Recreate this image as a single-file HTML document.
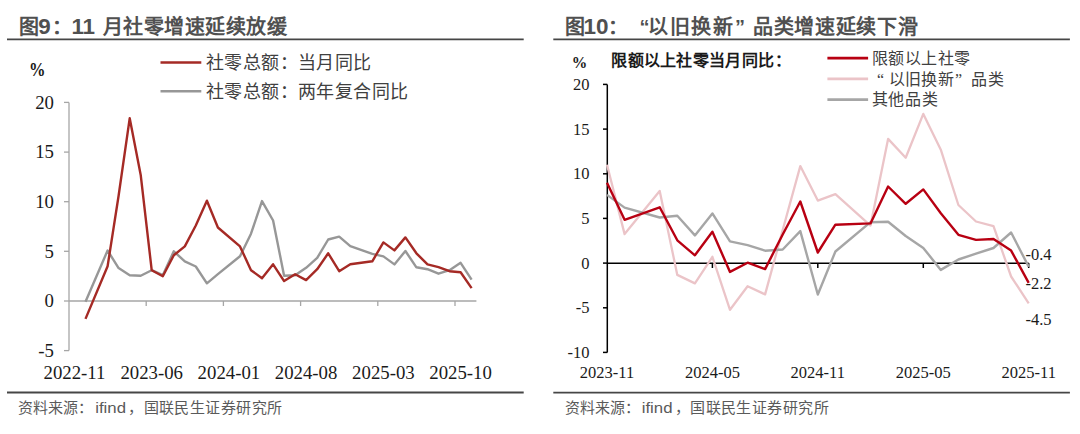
<!DOCTYPE html>
<html lang="zh-CN"><head><meta charset="utf-8"><style>
html,body{margin:0;padding:0;background:#fff;width:1080px;height:434px;overflow:hidden}
svg{display:block}
.ln{font-family:"Liberation Serif",serif;font-size:18.8px;fill:#1a1a1a}
.rn{font-family:"Liberation Serif",serif;font-size:16.5px;fill:#1a1a1a}
.lg{font-family:"Liberation Serif",serif;font-size:18px;fill:#404040;letter-spacing:0.4px;font-weight:350}
.rl{font-family:"Liberation Serif",serif;font-size:16px;fill:#404040;font-weight:350}
.rt{font-family:"Liberation Serif",serif;font-size:16px;fill:#1a1a1a;font-weight:bold}
.pct{font-family:"Liberation Serif",serif;font-size:16.5px;fill:#1a1a1a;font-weight:bold}
.pctr{font-family:"Liberation Serif",serif;font-size:15.5px;fill:#1a1a1a;font-weight:bold}
.tt{font-family:"Liberation Sans",sans-serif;font-size:20px;font-weight:bold;fill:#505050}
.src{font-family:"Liberation Sans",sans-serif;font-size:15px;fill:#5a5a5a}
</style></head><body>
<svg width="1080" height="434" viewBox="0 0 1080 434">
<rect width="1080" height="434" fill="#fff"/>
<line x1="69" y1="102.4" x2="69" y2="350.6" stroke="#A6A6A6" stroke-width="1.3"/>
<line x1="64" y1="102.4" x2="69" y2="102.4" stroke="#A6A6A6" stroke-width="1.3"/>
<text x="54" y="108.7" text-anchor="end" class="ln">20</text>
<line x1="64" y1="152.1" x2="69" y2="152.1" stroke="#A6A6A6" stroke-width="1.3"/>
<text x="54" y="158.4" text-anchor="end" class="ln">15</text>
<line x1="64" y1="201.7" x2="69" y2="201.7" stroke="#A6A6A6" stroke-width="1.3"/>
<text x="54" y="208.0" text-anchor="end" class="ln">10</text>
<line x1="64" y1="251.3" x2="69" y2="251.3" stroke="#A6A6A6" stroke-width="1.3"/>
<text x="54" y="257.6" text-anchor="end" class="ln">5</text>
<line x1="64" y1="301.0" x2="69" y2="301.0" stroke="#A6A6A6" stroke-width="1.3"/>
<text x="54" y="307.3" text-anchor="end" class="ln">0</text>
<line x1="64" y1="350.6" x2="69" y2="350.6" stroke="#A6A6A6" stroke-width="1.3"/>
<text x="54" y="356.9" text-anchor="end" class="ln">-5</text>
<line x1="69" y1="301" x2="476.4" y2="301" stroke="#A6A6A6" stroke-width="1.3"/>
<line x1="146.2" y1="301" x2="146.2" y2="306" stroke="#A6A6A6" stroke-width="1.3"/>
<line x1="223.4" y1="301" x2="223.4" y2="306" stroke="#A6A6A6" stroke-width="1.3"/>
<line x1="300.6" y1="301" x2="300.6" y2="306" stroke="#A6A6A6" stroke-width="1.3"/>
<line x1="377.8" y1="301" x2="377.8" y2="306" stroke="#A6A6A6" stroke-width="1.3"/>
<line x1="455.0" y1="301" x2="455.0" y2="306" stroke="#A6A6A6" stroke-width="1.3"/>
<text x="74.5" y="378.6" text-anchor="middle" class="ln">2022-11</text>
<text x="151.7" y="378.6" text-anchor="middle" class="ln">2023-06</text>
<text x="228.9" y="378.6" text-anchor="middle" class="ln">2024-01</text>
<text x="306.1" y="378.6" text-anchor="middle" class="ln">2024-08</text>
<text x="383.4" y="378.6" text-anchor="middle" class="ln">2025-03</text>
<text x="460.6" y="378.6" text-anchor="middle" class="ln">2025-10</text>
<polyline points="85.5,301.7 107.6,250.5 118.6,268.1 129.7,275.2 140.7,275.8 151.7,270.2 162.8,275.2 173.8,251.3 184.8,261.4 195.8,266.5 206.9,283.3 217.9,274.2 240.0,256.3 251.0,233.7 262.0,201.1 273.1,220.5 284.1,275.7 295.1,275.2 306.1,267.8 317.2,257.9 328.2,239.5 339.2,236.6 350.3,246.1 372.3,253.8 383.4,256.4 394.4,264.4 405.4,251.0 416.4,267.3 427.5,269.2 438.5,273.7 449.5,270.2 460.6,262.8 471.6,279.7" fill="none" stroke="#979797" stroke-width="2.4" stroke-linejoin="round"/>
<polyline points="85.5,318.9 107.6,266.2 118.6,195.7 129.7,118.3 140.7,174.9 151.7,270.2 162.8,276.2 173.8,255.3 184.8,246.4 195.8,225.5 206.9,200.7 217.9,227.5 240.0,246.4 251.0,270.2 262.0,278.2 273.1,264.3 284.1,281.1 295.1,274.2 306.1,280.1 317.2,269.2 328.2,253.3 339.2,271.2 350.3,264.3 372.3,261.3 383.4,242.4 394.4,250.4 405.4,237.4 416.4,253.3 427.5,264.3 438.5,267.2 449.5,271.2 460.6,272.2 471.6,288.1" fill="none" stroke="#A52A25" stroke-width="2.4" stroke-linejoin="round"/>
<line x1="160.5" y1="62.5" x2="201.3" y2="62.5" stroke="#A52A25" stroke-width="2.4"/>
<line x1="160.5" y1="91.3" x2="201.3" y2="91.3" stroke="#979797" stroke-width="2.4"/>
<text x="206" y="69" class="lg">社零总额：当月同比</text>
<text x="206" y="98" class="lg">社零总额：两年复合同比</text>
<text transform="translate(28.9,75.6) scale(1,1.15)" class="pct">%</text>
<line x1="607.3" y1="84.4" x2="607.3" y2="352.4" stroke="#000" stroke-width="1.5"/>
<line x1="603" y1="84.4" x2="607.3" y2="84.4" stroke="#000" stroke-width="1.5"/>
<text x="589.5" y="89.8" text-anchor="end" class="rn">20</text>
<line x1="603" y1="129.1" x2="607.3" y2="129.1" stroke="#000" stroke-width="1.5"/>
<text x="589.5" y="134.5" text-anchor="end" class="rn">15</text>
<line x1="603" y1="173.8" x2="607.3" y2="173.8" stroke="#000" stroke-width="1.5"/>
<text x="589.5" y="179.2" text-anchor="end" class="rn">10</text>
<line x1="603" y1="218.4" x2="607.3" y2="218.4" stroke="#000" stroke-width="1.5"/>
<text x="589.5" y="223.8" text-anchor="end" class="rn">5</text>
<line x1="603" y1="263.1" x2="607.3" y2="263.1" stroke="#000" stroke-width="1.5"/>
<text x="589.5" y="268.5" text-anchor="end" class="rn">0</text>
<line x1="603" y1="307.8" x2="607.3" y2="307.8" stroke="#000" stroke-width="1.5"/>
<text x="589.5" y="313.2" text-anchor="end" class="rn">-5</text>
<line x1="603" y1="352.4" x2="607.3" y2="352.4" stroke="#000" stroke-width="1.5"/>
<text x="589.5" y="357.8" text-anchor="end" class="rn">-10</text>
<line x1="607.3" y1="263.3" x2="1028.7" y2="263.3" stroke="#000" stroke-width="1.5"/>
<line x1="712.4" y1="263.1" x2="712.4" y2="268" stroke="#000" stroke-width="1.5"/>
<line x1="817.8" y1="263.1" x2="817.8" y2="268" stroke="#000" stroke-width="1.5"/>
<line x1="923.3" y1="263.1" x2="923.3" y2="268" stroke="#000" stroke-width="1.5"/>
<line x1="1028.7" y1="263.1" x2="1028.7" y2="268" stroke="#000" stroke-width="1.5"/>
<text x="607.0" y="377.5" text-anchor="middle" class="rn">2023-11</text>
<text x="712.4" y="377.5" text-anchor="middle" class="rn">2024-05</text>
<text x="817.8" y="377.5" text-anchor="middle" class="rn">2024-11</text>
<text x="923.3" y="377.5" text-anchor="middle" class="rn">2025-05</text>
<text x="1028.7" y="377.5" text-anchor="middle" class="rn">2025-11</text>
<polyline points="607.0,164.8 624.6,234.1 659.7,191.0 677.3,274.9 694.9,283.4 712.4,256.8 730.0,309.8 747.6,286.3 765.1,294.4 782.7,230.0 800.3,166.1 817.8,200.6 835.4,194.2 870.5,225.6 888.1,138.9 905.7,157.7 923.3,113.9 940.8,149.7 958.4,205.0 976.0,221.5 993.5,226.1 1011.1,276.5 1028.7,303.3" fill="none" stroke="#EBC4C8" stroke-width="2.3" stroke-linejoin="round"/>
<polyline points="607.0,194.9 624.6,207.6 659.7,217.5 677.3,215.8 694.9,235.4 712.4,213.4 730.0,241.3 747.6,245.2 765.1,250.7 782.7,249.5 800.3,231.1 817.8,294.5 835.4,251.5 870.5,222.2 888.1,221.8 905.7,236.0 923.3,247.9 940.8,269.9 958.4,259.5 976.0,253.7 993.5,248.0 1011.1,232.5 1028.7,266.7" fill="none" stroke="#A6A6A6" stroke-width="2.4" stroke-linejoin="round"/>
<polyline points="607.0,182.7 624.6,219.8 659.7,207.3 677.3,240.3 694.9,255.3 712.4,231.8 730.0,271.9 747.6,262.7 765.1,269.1 782.7,234.5 800.3,201.5 817.8,252.5 835.4,224.7 870.5,223.4 888.1,186.5 905.7,203.8 923.3,189.4 940.8,213.3 958.4,234.8 976.0,239.9 993.5,239.0 1011.1,250.6 1028.7,282.8" fill="none" stroke="#B80012" stroke-width="2.4" stroke-linejoin="round"/>
<text x="1025.5" y="260" class="rn">-0.4</text>
<text x="1025.5" y="289" class="rn">-2.2</text>
<text x="1025.5" y="325" class="rn">-4.5</text>
<text transform="translate(571.8,67.8) scale(1,1.12)" class="pctr">%</text>
<text x="611.2" y="66.2" class="rt" textLength="162.8" lengthAdjust="spacing">限额以上社零当月同比</text>
<text x="775.3" y="66.2" class="rt">：</text>
<line x1="827.4" y1="58.1" x2="868.1" y2="58.1" stroke="#B80012" stroke-width="2.6"/>
<line x1="827.4" y1="78.9" x2="868.1" y2="78.9" stroke="#EBC4C8" stroke-width="2.6"/>
<line x1="827.4" y1="99.6" x2="868.1" y2="99.6" stroke="#A6A6A6" stroke-width="2.6"/>
<text x="871.6" y="64" class="rl" textLength="98.8" lengthAdjust="spacing">限额以上社零</text>
<text x="877" y="85" class="rl">“</text>
<text x="889" y="85" class="rl" textLength="64.5" lengthAdjust="spacing">以旧换新</text>
<text x="955" y="85" class="rl">”</text>
<text x="970.7" y="85" class="rl" textLength="32.8" lengthAdjust="spacing">品类</text>
<text x="871.6" y="105" class="rl" textLength="66.4" lengthAdjust="spacing">其他品类</text>
<line x1="7" y1="39.3" x2="523.7" y2="39.3" stroke="#464646" stroke-width="1.8"/>
<line x1="553.3" y1="39.3" x2="1069.9" y2="39.3" stroke="#464646" stroke-width="1.8"/>
<line x1="7" y1="392.5" x2="523.7" y2="392.5" stroke="#464646" stroke-width="1.8"/>
<line x1="553.3" y1="392.7" x2="1069.9" y2="392.7" stroke="#464646" stroke-width="1.8"/>
<text x="18.6" y="34" class="tt">图</text>
<text x="38.2" y="34" class="tt" style="font-size:22.4px">9</text>
<text x="52" y="34" class="tt">：</text>
<text x="71.5" y="34" class="tt" style="font-size:22.4px" textLength="23.5" lengthAdjust="spacing">11</text>
<text x="102.6" y="34" class="tt" textLength="184.3" lengthAdjust="spacing">月社零增速延续放缓</text>
<text x="564.6" y="34" class="tt">图</text>
<text x="583.6" y="34" class="tt" style="font-size:22.4px" textLength="25" lengthAdjust="spacingAndGlyphs">10</text>
<text x="608" y="34" class="tt">：</text>
<text x="639.5" y="34" class="tt">“</text>
<text x="648.4" y="34" class="tt" textLength="84.5" lengthAdjust="spacing">以旧换新</text>
<text x="735" y="34" class="tt">”</text>
<text x="752.9" y="34" class="tt" textLength="165" lengthAdjust="spacing">品类增速延续下滑</text>
<text x="18" y="413" class="src" textLength="75" lengthAdjust="spacing">资料来源：</text>
<text transform="translate(95.2,413) scale(1.12,1)" class="src">ifind</text>
<text x="128" y="413" class="src">，</text>
<text x="143.6" y="413" class="src" textLength="138.5" lengthAdjust="spacing">国联民生证券研究所</text>
<text x="564.5" y="413" class="src" textLength="75" lengthAdjust="spacing">资料来源：</text>
<text transform="translate(641.7,413) scale(1.12,1)" class="src">ifind</text>
<text x="674.5" y="413" class="src">，</text>
<text x="690.1" y="413" class="src" textLength="138.5" lengthAdjust="spacing">国联民生证券研究所</text>
</svg>
</body></html>
